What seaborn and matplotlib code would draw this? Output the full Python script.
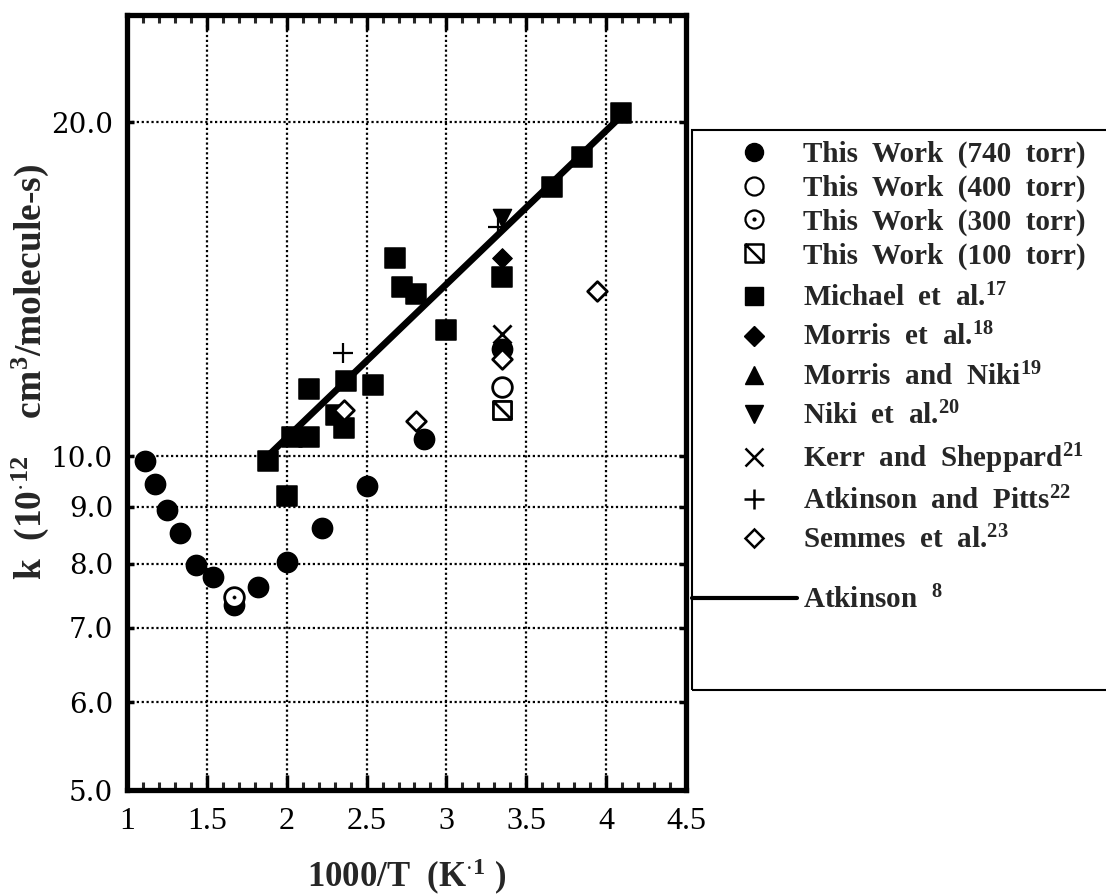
import matplotlib
matplotlib.use("Agg")
import matplotlib.pyplot as plt
import seaborn as sns
from matplotlib.ticker import MultipleLocator, FixedLocator, FixedFormatter, NullLocator, FuncFormatter
from matplotlib.lines import Line2D
from matplotlib.patches import Rectangle
from matplotlib.path import Path

# data: x = 1000/T (1/K), y = k (1e-12 cm3/molecule-s)
w740_x = [1.11, 1.175, 1.25, 1.33, 1.43, 1.54, 1.67, 1.82, 2.0, 2.22, 2.5, 2.86, 3.35]
w740_y = [9.9, 9.43, 8.95, 8.53, 7.98, 7.78, 7.34, 7.62, 8.03, 8.62, 9.4, 10.36, 12.5]
w400_x = [3.35]
w400_y = [11.55]
w300_x = [1.67]
w300_y = [7.46]
w100_x = [3.35]
w100_y = [11.0]
michael_x = [1.88, 2.0, 2.03, 2.14, 2.14, 2.31, 2.36, 2.37, 2.54, 2.68, 2.72, 2.81, 3.0, 3.35, 3.66, 3.85, 4.09]
michael_y = [9.9, 9.2, 10.4, 10.4, 11.5, 10.9, 10.6, 11.7, 11.6, 15.1, 14.2, 14.0, 13.0, 14.5, 17.5, 18.6, 20.4]
morris_x = [3.35]
morris_y = [15.1]
morris_niki_x = []
morris_niki_y = []
niki_x = [3.35]
niki_y = [16.4]
kerr_x = [3.35]
kerr_y = [12.9]
pitts_x = [2.35, 3.32]
pitts_y = [12.4, 16.1]
semmes_x = [2.36, 2.81, 3.35, 3.94]
semmes_y = [11.0, 10.76, 12.25, 14.1]
atk_x = [1.88, 4.1]
atk_y = [10.0, 20.3]

xticks = [1, 1.5, 2, 2.5, 3, 3.5, 4, 4.5]
yticks = [5, 6, 7, 8, 9, 10, 20]
ytick_labels = ["5.0", "6.0", "7.0", "8.0", "9.0", "10.0", "20.0"]

sns.set_style("white")
plt.rcParams['font.family'] = ['Liberation Serif', 'DejaVu Serif']
plt.rcParams['mathtext.fontset'] = 'custom'
plt.rcParams['mathtext.rm'] = 'Liberation Serif'
plt.rcParams['mathtext.bf'] = 'Liberation Serif:bold'
plt.rcParams['mathtext.default'] = 'bf'

# slashed square marker
slash_sq = Path([(-1, -1), (1, -1), (1, 1), (-1, 1), (-1, -1), (-1, 1), (1, -1)],
                [Path.MOVETO, Path.LINETO, Path.LINETO, Path.LINETO, Path.CLOSEPOLY,
                 Path.MOVETO, Path.LINETO])

fig = plt.figure(figsize=(11.06, 8.96), dpi=100)
ax = fig.add_axes([127/1106, 1-790/896, (686-127)/1106, (790-15)/896])

sns.lineplot(x=atk_x, y=atk_y, color='black', linewidth=4.8, ax=ax, zorder=3)
sns.scatterplot(x=michael_x, y=michael_y, marker='s', s=190, color='black', edgecolor='black', ax=ax, zorder=4)
sns.scatterplot(x=w740_x, y=w740_y, marker='o', s=210, color='black', edgecolor='black', ax=ax, zorder=4)
sns.scatterplot(x=morris_x, y=morris_y, marker='D', s=100, color='black', edgecolor='black', ax=ax, zorder=4)
sns.scatterplot(x=niki_x, y=niki_y, marker='v', s=170, color='black', edgecolor='black', ax=ax, zorder=4)
if morris_niki_x:
    sns.scatterplot(x=morris_niki_x, y=morris_niki_y, marker='^', s=170, color='black', ax=ax, zorder=4)
sns.scatterplot(x=kerr_x, y=kerr_y, marker='x', s=170, color='black', linewidth=2, ax=ax, zorder=5)
sns.scatterplot(x=pitts_x, y=pitts_y, marker='+', s=190, color='black', linewidth=1.6, ax=ax, zorder=5)
sns.scatterplot(x=semmes_x, y=semmes_y, marker='D', s=100, color='white', edgecolor='black', linewidth=2, ax=ax, zorder=6)
sns.scatterplot(x=w400_x, y=w400_y, marker='o', s=200, color='white', edgecolor='black', linewidth=2, ax=ax, zorder=6)
sns.scatterplot(x=w300_x, y=w300_y, marker='o', s=200, color='white', edgecolor='black', linewidth=2, ax=ax, zorder=6)
sns.scatterplot(x=w300_x, y=w300_y, marker='o', s=6, color='black', edgecolor='black', ax=ax, zorder=7)
sns.scatterplot(x=w100_x, y=w100_y, marker=slash_sq, s=170, color='white', edgecolor='black', linewidth=2, ax=ax, zorder=6)

ax.set_yscale('log')
ax.set_xlim(1, 4.5)
ax.set_ylim(5, 25)
ax.xaxis.set_major_locator(FixedLocator(xticks))
ax.xaxis.set_major_formatter(FuncFormatter(lambda v, p: f"{v:g}"))
ax.xaxis.set_minor_locator(MultipleLocator(0.1))
ax.yaxis.set_major_locator(FixedLocator(yticks))
ax.yaxis.set_major_formatter(FixedFormatter(ytick_labels))
ax.yaxis.set_minor_locator(NullLocator())

ax.grid(True, which='major', color='black', linestyle=(0, (1, 1.2)), linewidth=1.6)
for sp in ax.spines.values():
    sp.set_linewidth(3.8)
    sp.set_color('black')

ax.tick_params(axis='x', which='major', direction='in', top=True, bottom=True, length=11, width=2.5,
               labelsize=23, pad=12, colors='black')
ax.tick_params(axis='x', which='minor', direction='in', top=True, bottom=True, length=6, width=2.2)
ax.tick_params(axis='y', which='major', direction='in', left=True, right=True, length=5, width=2.5,
               labelsize=20, pad=10, colors='black')
for lab in ax.get_yticklabels():
    lab.set_family('DejaVu Serif')

ax.set_xlabel(r"1000/T  (K$^{\cdot 1}$ )", fontsize=25, fontweight='bold', labelpad=15)
ax.set_ylabel(r"k  (10$^{\cdot 12}$    cm$^{3}$/molecule-s)", fontsize=27, fontweight='bold')
ax.yaxis.set_label_coords(-0.136, 0.54)

# legend
fs = 21
prop = {'weight': 'bold', 'size': fs}
ms = 13
h_a = [Line2D([], [], marker='o', ls='none', color='black', ms=ms),
       Line2D([], [], marker='o', ls='none', mfc='white', mec='black', mew=1.6, ms=ms),
       (Line2D([], [], marker='o', ls='none', mfc='white', mec='black', mew=1.6, ms=ms),
        Line2D([], [], marker='o', ls='none', color='black', ms=2)),
       Line2D([], [], marker=slash_sq, ls='none', mfc='white', mec='black', mew=1.8, ms=ms)]
l_a = ["This  Work  (740  torr)", "This  Work  (400  torr)", "This  Work  (300  torr)",
       "This  Work  (100  torr)"]
h_b = [Line2D([], [], marker='s', ls='none', color='black', ms=ms),
       Line2D([], [], marker='D', ls='none', color='black', ms=10),
       Line2D([], [], marker='^', ls='none', color='black', ms=ms),
       Line2D([], [], marker='v', ls='none', color='black', ms=ms),
       Line2D([], [], marker='x', ls='none', color='black', mew=1.8, ms=ms),
       Line2D([], [], marker='+', ls='none', color='black', mew=1.8, ms=ms + 2),
       Line2D([], [], marker='D', ls='none', mfc='white', mec='black', mew=1.8, ms=9)]
l_b = [r"Michael  et  al.$^{17}$", r"Morris  et  al.$^{18}$", r"Morris  and  Niki$^{19}$",
       r"Niki  et  al.$^{20}$", r"Kerr  and  Sheppard$^{21}$", r"Atkinson  and  Pitts$^{22}$",
       r"Semmes  et  al.$^{23}$"]
h_c = [Line2D([], [], color='black', lw=3)]
l_c = [r"Atkinson  $^{8}$"]

common = dict(loc='upper left', bbox_transform=fig.transFigure, frameon=False, prop=prop,
              borderpad=0, borderaxespad=0)
leg_a = ax.legend(h_a, l_a, bbox_to_anchor=(739/1106, 1-141/896), handlelength=1.0,
                  handletextpad=1.2, labelspacing=0.22, **common)
ax.add_artist(leg_a)
leg_b = ax.legend(h_b, l_b, bbox_to_anchor=(739/1106, 1-284/896), handlelength=1.0,
                  handletextpad=1.2, labelspacing=0.37, **common)
ax.add_artist(leg_b)
leg_c = ax.legend(h_c, l_c, bbox_to_anchor=(692/1106, 1-586/896), handlelength=3.6,
                  handletextpad=0.22, **common)
fig.add_artist(Rectangle((692/1106, 1-690/896), 0.5, (690-130)/896, transform=fig.transFigure,
                         fill=False, edgecolor='black', linewidth=1.5))

fig.savefig("out.png", dpi=100)
